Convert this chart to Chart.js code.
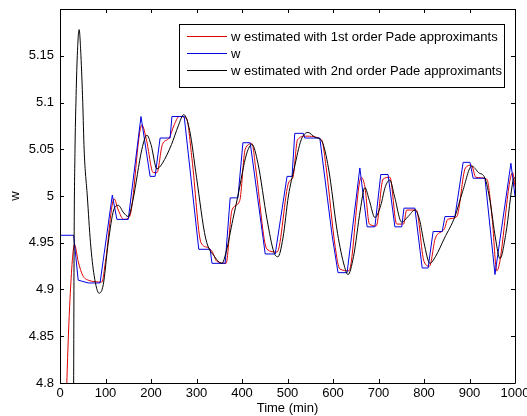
<!DOCTYPE html>
<html>
<head>
<meta charset="utf-8">
<script src="https://cdn.jsdelivr.net/npm/chart.js@4.4.1/dist/chart.umd.min.js"></script>
<style>
  body { margin: 0; background: #fff; }
  canvas { display: block; }
</style>
</head>
<body>
<canvas id="chart" width="527" height="416"></canvas>
<script>
// time (min) / value pairs
const wTime = [0, 30, 40, 62, 88, 115, 125, 150, 178, 198, 209, 220, 242, 246, 273, 305, 330, 334, 363, 374, 391, 402, 418, 451, 473, 499, 510, 516, 535, 538, 571, 598, 611, 631, 659, 675, 692, 705, 721, 736, 751, 756, 780, 796, 809, 820, 840, 846, 868, 886, 901, 908, 934, 956, 991, 1000];
const wValues = [4.958, 4.958, 4.910, 4.907, 4.907, 5.001, 4.975, 4.975, 5.085, 5.021, 5.021, 5.062, 5.062, 5.085, 5.085, 4.943, 4.943, 4.928, 4.928, 4.998, 4.998, 5.057, 5.057, 4.938, 4.938, 5.021, 5.021, 5.067, 5.067, 5.062, 5.062, 4.958, 4.918, 4.918, 5.030, 4.967, 4.967, 5.023, 5.023, 4.967, 4.967, 4.987, 4.987, 4.923, 4.923, 4.962, 4.962, 4.978, 4.978, 5.036, 5.036, 5.019, 5.019, 4.916, 5.035, 5.0];

const pade1Time = [0, 15, 22, 32, 40, 50, 62, 92, 100, 119, 128, 140, 153, 180, 190, 205, 213, 225, 240, 250, 262, 278, 290, 310, 325, 335, 345, 365, 378, 395, 407, 422, 430, 455, 477, 503, 512, 522, 540, 575, 585, 605, 615, 635, 662, 670, 680, 695, 710, 725, 740, 755, 762, 783, 800, 812, 825, 845, 852, 872, 891, 904, 914, 938, 950, 960, 995, 1000];
const pade1Values = [4.5, 4.8, 4.89, 4.948, 4.93, 4.915, 4.910, 4.908, 4.93, 4.997, 4.985, 4.975, 4.978, 5.076, 5.06, 5.025, 5.025, 5.055, 5.062, 5.075, 5.085, 5.083, 5.04, 4.95, 4.945, 4.94, 4.93, 4.928, 4.985, 4.995, 5.05, 5.056, 5.03, 4.943, 4.94, 5.015, 5.02, 5.06, 5.064, 5.06, 5.03, 4.945, 4.922, 4.92, 5.02, 5.01, 4.97, 4.968, 5.018, 5.02, 4.97, 4.97, 4.985, 4.985, 4.93, 4.925, 4.955, 4.965, 4.975, 4.978, 5.03, 5.033, 5.02, 5.018, 4.975, 4.92, 5.025, 5.01];

const pade2Time = [0, 28, 30, 31, 33, 35, 38, 42, 46, 50, 53, 60, 67, 75, 86, 95, 106, 118, 128, 140, 150, 160, 180, 191, 200, 213, 225, 245, 260, 272, 285, 300, 320, 340, 356, 365, 380, 391, 410, 422, 435, 455, 470, 479, 490, 502, 515, 530, 545, 560, 576, 590, 610, 625, 633, 645, 660, 670, 680, 692, 705, 715, 725, 735, 751, 765, 780, 790, 800, 813, 825, 845, 868, 885, 905, 920, 934, 945, 957, 967, 980, 996, 1000];
const pade2Values = [4.3, 4.6, 4.8, 4.95, 5.05, 5.1, 5.15, 5.178, 5.15, 5.1, 5.05, 5.0, 4.95, 4.915, 4.896, 4.905, 4.95, 4.985, 4.99, 4.982, 4.978, 4.995, 5.05, 5.065, 5.055, 5.029, 5.035, 5.055, 5.075, 5.087, 5.07, 5.02, 4.955, 4.935, 4.928, 4.94, 4.975, 5.0, 5.045, 5.055, 5.035, 4.975, 4.94, 4.935, 4.955, 5.0, 5.03, 5.06, 5.068, 5.063, 5.058, 5.03, 4.96, 4.925, 4.916, 4.935, 4.985, 5.009, 4.995, 4.977, 4.99, 5.01, 5.017, 5.0, 4.972, 4.978, 4.985, 4.975, 4.95, 4.928, 4.935, 4.955, 4.978, 5.005, 5.032, 5.025, 5.019, 4.995, 4.955, 4.933, 4.96, 5.017, 5.02];

const seriesLabels = ['w estimated with 1st order Pade approximants', 'w', 'w estimated with 2nd order Pade approximants'];
const seriesColors = ['#e00000', '#0000e0', '#000000'];

const FONT = '"Liberation Sans", Arial, sans-serif';

function toPoints(ts, vs) {
  return ts.map((t, i) => ({ x: t, y: vs[i] }));
}

// MATLAB style box with inward ticks on all four sides, plus the boxed legend
const frame = {
  id: 'frame',
  afterDatasetsDraw(chart) {
    const { ctx, chartArea: a, scales } = chart;
    ctx.save();
    ctx.strokeStyle = '#000';
    ctx.lineWidth = 1;
    ctx.beginPath();
    ctx.rect(Math.round(a.left) + 0.5, Math.round(a.top) + 0.5, Math.round(a.right - a.left), Math.round(a.bottom - a.top));
    scales.x.ticks.forEach(t => {
      const px = Math.round(scales.x.getPixelForValue(t.value)) + 0.5;
      ctx.moveTo(px, a.bottom); ctx.lineTo(px, a.bottom - 4);
      ctx.moveTo(px, a.top); ctx.lineTo(px, a.top + 4);
    });
    scales.y.ticks.forEach(t => {
      const py = Math.round(scales.y.getPixelForValue(t.value)) + 0.5;
      ctx.moveTo(a.left, py); ctx.lineTo(a.left + 4, py);
      ctx.moveTo(a.right, py); ctx.lineTo(a.right - 4, py);
    });
    ctx.stroke();
    ctx.restore();
  },
  afterDraw(chart) {
    const { ctx } = chart;
    const x0 = 179, y0 = 24, w = 325, h = 63;
    ctx.save();
    ctx.fillStyle = '#fff';
    ctx.fillRect(x0, y0, w, h);
    ctx.strokeStyle = '#000';
    ctx.lineWidth = 1;
    ctx.strokeRect(x0 + 0.5, y0 + 0.5, w, h);
    ctx.font = '13px ' + FONT;
    ctx.textBaseline = 'middle';
    seriesLabels.forEach((label, i) => {
      const y = y0 + 12.5 + i * 17;
      ctx.beginPath();
      ctx.strokeStyle = seriesColors[i];
      ctx.moveTo(x0 + 8, y);
      ctx.lineTo(x0 + 48, y);
      ctx.stroke();
      ctx.fillStyle = '#000';
      ctx.fillText(label, x0 + 52, y + 1);
    });
    ctx.restore();
  }
};

new Chart(document.getElementById('chart'), {
  type: 'line',
  data: {
    datasets: [
      { label: seriesLabels[0], data: toPoints(pade1Time, pade1Values), borderColor: seriesColors[0], borderWidth: 1, pointRadius: 0, cubicInterpolationMode: 'monotone', order: 2 },
      { label: seriesLabels[1], data: toPoints(wTime, wValues), borderColor: seriesColors[1], borderWidth: 1, pointRadius: 0, tension: 0, order: 1 },
      { label: seriesLabels[2], data: toPoints(pade2Time, pade2Values), borderColor: seriesColors[2], borderWidth: 1, pointRadius: 0, cubicInterpolationMode: 'monotone', order: 0 }
    ]
  },
  plugins: [frame],
  options: {
    responsive: false,
    animation: false,
    devicePixelRatio: 1,
    layout: { padding: { left: 0, right: 12, top: 9, bottom: 0 } },
    plugins: {
      legend: { display: false },
      tooltip: { enabled: false }
    },
    scales: {
      x: {
        type: 'linear',
        min: 0,
        max: 1000,
        ticks: { stepSize: 100, color: '#000', font: { size: 13, family: FONT }, padding: 3, maxRotation: 0, callback: v => String(v) },
        grid: { display: false, drawTicks: false, tickLength: 0 },
        border: { display: false },
        title: { display: true, text: 'Time (min)', color: '#000', font: { size: 13, family: FONT }, padding: 0 },
        afterFit: s => { s.height = 33; s.paddingLeft = 0; s.paddingRight = 0; }
      },
      y: {
        min: 4.8,
        max: 5.2,
        ticks: {
          stepSize: 0.05,
          color: '#000',
          font: { size: 13, family: FONT },
          padding: 6,
          callback: v => (v > 5.19 ? '' : String(+v.toFixed(2)))
        },
        grid: { display: false, drawTicks: false, tickLength: 0 },
        border: { display: false },
        title: { display: true, text: 'w', color: '#000', font: { size: 13, family: FONT }, padding: { top: 8, bottom: 0 } },
        afterFit: s => { s.width = 60; s.paddingTop = 0; s.paddingBottom = 0; }
      }
    }
  }
});
</script>
</body>
</html>
